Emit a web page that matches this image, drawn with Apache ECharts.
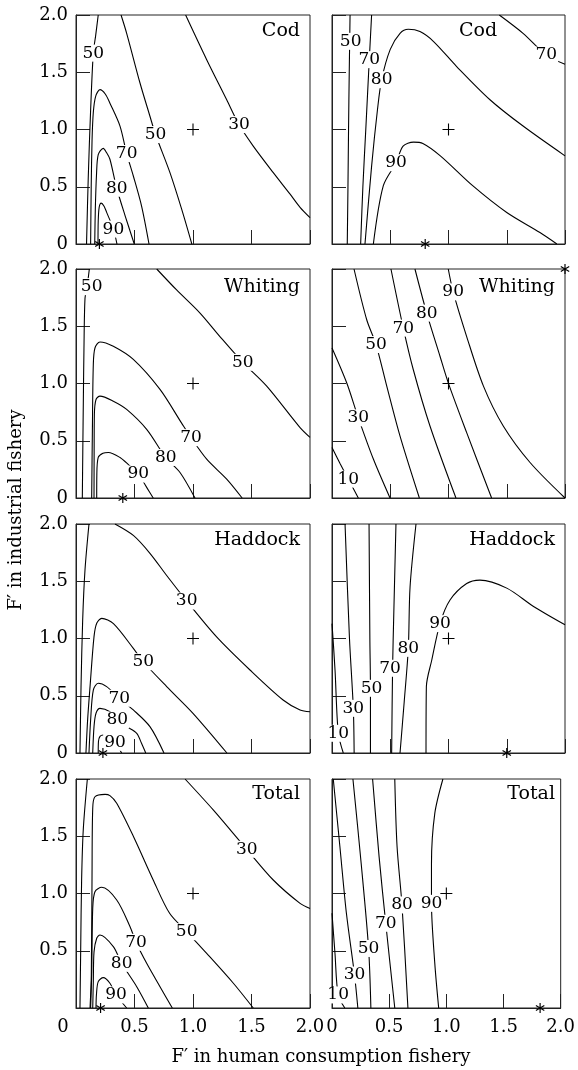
<!DOCTYPE html>
<html>
<head>
<meta charset="utf-8">
<script src="https://cdn.jsdelivr.net/npm/echarts@6/dist/echarts.min.js"></script>
<style>
  html, body { margin: 0; padding: 0; background: #fff; }
  #chart { width: 578px; height: 1070px; }
</style>
</head>
<body>
<div id="chart"></div>
<script>
// contour lines, [F' human consumption, F' industrial]
const codLeftLines = [
  [[0.19, 2], [0.168, 1.82], [0.148, 1.67], [0.125, 1.17], [0.105, 0.59], [0.09, 0]],
  [[0.385, 2], [0.433, 1.84], [0.547, 1.406], [0.632, 1.116], [0.68, 0.956], [0.803, 0.623], [0.903, 0.304], [0.99, 0]],
  [[0.937, 2], [1.117, 1.61], [1.288, 1.26], [1.393, 1.043], [1.515, 0.855], [1.686, 0.623], [1.83, 0.435], [1.915, 0.32], [2, 0.23]],
  [[0.125, 0], [0.13, 0.5], [0.137, 0.9], [0.148, 1.15], [0.168, 1.29], [0.205, 1.348], [0.25, 1.31], [0.29, 1.23], [0.376, 1.03], [0.433, 0.79], [0.49, 0.594], [0.56, 0.333], [0.624, 0]],
  [[0.16, 0], [0.165, 0.3], [0.175, 0.6], [0.19, 0.78], [0.233, 0.835], [0.26, 0.8], [0.29, 0.74], [0.348, 0.487], [0.42, 0.246], [0.498, 0]],
  [[0.188, 0], [0.19, 0.2], [0.198, 0.32], [0.215, 0.357], [0.24, 0.33], [0.262, 0.276], [0.32, 0.13], [0.35, 0]]
];
const codLeftLabels = [[0.148, 1.667, '50'], [0.68, 0.956, '50'], [1.393, 1.043, '30'], [0.433, 0.79, '70'], [0.348, 0.487, '80'], [0.32, 0.13, '90']];
const codLeftStar = [0.2, 0];

const codRightLines = [
  [[0.155, 2], [0.148, 1.5], [0.142, 1.0], [0.137, 0.5], [0.131, 0]],
  [[0.34, 2], [0.32, 1.61], [0.29, 1.0], [0.265, 0.5], [0.246, 0]],
  [[0.283, 0], [0.34, 0.68], [0.39, 1.17], [0.426, 1.435], [0.5, 1.7], [0.584, 1.84], [0.655, 1.875], [0.755, 1.855], [0.87, 1.77], [1.07, 1.55], [1.356, 1.26], [1.64, 1.03], [2, 0.77]],
  [[0.355, 0], [0.44, 0.507], [0.55, 0.71], [0.61, 0.855], [0.7, 0.89], [0.78, 0.878], [0.93, 0.77], [1.21, 0.507], [1.5, 0.275], [1.785, 0.1], [1.93, 0]],
  [[1.436, 2], [1.64, 1.84], [1.84, 1.65], [2, 1.57]]
];
const codRightLabels = [[0.16, 1.77, '50'], [0.32, 1.61, '70'], [0.426, 1.435, '80'], [0.55, 0.71, '90'], [1.84, 1.65, '70']];
const codRightStar = [0.8, 0];

const whitingLeftLines = [
  [[0.114, 2], [0.095, 1.85], [0.077, 1.745], [0.068, 1.3], [0.063, 0.876], [0.058, 0.4], [0.054, 0]],
  [[0.69, 2], [0.86, 1.817], [1.06, 1.615], [1.23, 1.41], [1.425, 1.185], [1.63, 0.977], [1.915, 0.615], [2, 0.53]],
  [[0.134, 0], [0.14, 0.585], [0.148, 1.165], [0.162, 1.31], [0.205, 1.363], [0.319, 1.325], [0.49, 1.21], [0.718, 0.948], [0.9, 0.658], [0.983, 0.527], [1.117, 0.339], [1.288, 0.165], [1.42, 0]],
  [[0.154, 0], [0.155, 0.4], [0.157, 0.73], [0.171, 0.86], [0.205, 0.89], [0.319, 0.846], [0.433, 0.774], [0.604, 0.6], [0.767, 0.354], [0.889, 0.223], [1.017, 0]],
  [[0.177, 0], [0.178, 0.2], [0.19, 0.354], [0.23, 0.39], [0.276, 0.397], [0.376, 0.354], [0.45, 0.29], [0.533, 0.209], [0.604, 0.093], [0.66, 0]]
];
const whitingLeftLabels = [[0.134, 1.846, '50'], [1.425, 1.185, '50'], [0.983, 0.527, '70'], [0.767, 0.354, '80'], [0.533, 0.209, '90']];
const whitingLeftStar = [0.4, 0];

const whitingRightLines = [
  [[0, 0.44], [0.07, 0.3], [0.14, 0.165], [0.226, 0]],
  [[0, 1.31], [0.126, 1.006], [0.226, 0.7], [0.355, 0.34], [0.498, 0]],
  [[0.189, 2], [0.298, 1.557], [0.378, 1.34], [0.47, 0.977], [0.584, 0.54], [0.75, 0]],
  [[0.506, 2], [0.612, 1.484], [0.698, 1.12], [0.841, 0.629], [1.064, 0]],
  [[0.712, 2], [0.813, 1.615], [0.927, 1.238], [0.998, 1.006], [1.156, 0.571], [1.37, 0]],
  [[0.998, 2], [1.04, 1.8], [1.156, 1.41], [1.3, 0.977], [1.47, 0.629], [1.7, 0.31], [2, 0]]
];
const whitingRightLabels = [[0.14, 0.165, '10'], [0.226, 0.7, '30'], [0.378, 1.34, '50'], [0.612, 1.484, '70'], [0.813, 1.615, '80'], [1.04, 1.8, '90']];
const whitingRightStar = [2, 2];

const haddockLeftLines = [
  [[0.111, 2], [0.077, 1.6], [0.057, 1.16], [0.043, 0.58], [0.034, 0]],
  [[0.333, 2], [0.49, 1.9], [0.632, 1.744], [0.775, 1.55], [0.946, 1.327], [1.2, 1.016], [1.487, 0.725], [1.77, 0.463], [1.915, 0.376], [2, 0.36]],
  [[0.085, 0], [0.1, 0.3], [0.12, 0.58], [0.154, 1.016], [0.177, 1.133], [0.22, 1.176], [0.32, 1.13], [0.49, 0.914], [0.575, 0.797], [0.775, 0.58], [1.0, 0.347], [1.29, 0]],
  [[0.111, 0], [0.125, 0.288], [0.148, 0.55], [0.19, 0.609], [0.262, 0.58], [0.37, 0.478], [0.49, 0.376], [0.632, 0.23], [0.752, 0]],
  [[0.143, 0], [0.154, 0.23], [0.171, 0.347], [0.205, 0.39], [0.29, 0.36], [0.353, 0.288], [0.433, 0.23], [0.519, 0.172], [0.56, 0.085], [0.596, 0]],
  [[0.19, 0], [0.192, 0.1], [0.205, 0.145], [0.233, 0.157], [0.28, 0.14], [0.333, 0.093], [0.39, 0]]
];
const haddockLeftLabels = [[0.946, 1.327, '30'], [0.575, 0.797, '50'], [0.37, 0.478, '70'], [0.353, 0.288, '80'], [0.333, 0.093, '90']];
const haddockLeftStar = [0.23, 0];

const haddockRightLines = [
  [[0, 1.13], [0.026, 0.725], [0.054, 0.172], [0.097, 0]],
  [[0.112, 2], [0.15, 1.0], [0.183, 0.39], [0.19, 0]],
  [[0.318, 2], [0.325, 1.0], [0.33, 0.565], [0.33, 0]],
  [[0.549, 2], [0.53, 1.2], [0.52, 0.74], [0.512, 0]],
  [[0.721, 2], [0.67, 1.45], [0.655, 0.914], [0.62, 0.45], [0.584, 0]],
  [[0.807, 0], [0.81, 0.58], [0.856, 0.81], [0.927, 1.13], [1.013, 1.336], [1.156, 1.48], [1.27, 1.51], [1.5, 1.44], [1.73, 1.28], [2, 1.12]]
];
const haddockRightLabels = [[0.054, 0.172, '10'], [0.183, 0.39, '30'], [0.34, 0.565, '50'], [0.498, 0.74, '70'], [0.655, 0.914, '80'], [0.927, 1.13, '90']];
const haddockRightStar = [1.5, 0];

const totalLeftLines = [
  [[0.097, 2], [0.062, 1.555], [0.048, 1.118], [0.04, 0.5], [0.034, 0]],
  [[0.932, 2], [1.173, 1.73], [1.459, 1.386], [1.686, 1.118], [1.915, 0.914], [2, 0.87]],
  [[0.12, 0], [0.131, 0.29], [0.137, 1.16], [0.143, 1.744], [0.162, 1.845], [0.248, 1.866], [0.29, 1.855], [0.348, 1.788], [0.49, 1.5], [0.66, 1.118], [0.8, 0.827], [0.946, 0.666], [1.117, 0.477], [1.345, 0.216], [1.515, 0]],
  [[0.125, 0], [0.134, 0.29], [0.143, 0.87], [0.162, 1.016], [0.22, 1.054], [0.348, 0.943], [0.462, 0.71], [0.513, 0.574], [0.604, 0.39], [0.718, 0.186], [0.823, 0]],
  [[0.143, 0], [0.148, 0.23], [0.154, 0.49], [0.177, 0.609], [0.205, 0.638], [0.319, 0.536], [0.39, 0.39], [0.519, 0.186], [0.618, 0]],
  [[0.171, 0], [0.175, 0.12], [0.19, 0.23], [0.233, 0.265], [0.29, 0.216], [0.342, 0.114], [0.433, 0]]
];
const totalLeftLabels = [[1.459, 1.386, '30'], [0.946, 0.666, '50'], [0.513, 0.574, '70'], [0.39, 0.39, '80'], [0.342, 0.114, '90']];
const totalLeftStar = [0.21, 0];

const totalRightLines = [
  [[0, 0.827], [0.026, 0.478], [0.054, 0.114], [0.112, 0]],
  [[0.011, 2], [0.069, 1.41], [0.126, 0.827], [0.197, 0.288], [0.226, 0]],
  [[0.183, 2], [0.255, 1.264], [0.32, 0.52], [0.34, 0]],
  [[0.355, 2], [0.412, 1.32], [0.47, 0.74], [0.549, 0]],
  [[0.549, 2], [0.569, 1.41], [0.612, 0.9], [0.664, 0]],
  [[0.97, 2], [0.899, 1.7], [0.87, 1.264], [0.87, 0.914], [0.899, 0.39], [0.933, 0]]
];
const totalRightLabels = [[0.054, 0.114, '10'], [0.197, 0.288, '30'], [0.32, 0.52, '50'], [0.47, 0.74, '70'], [0.612, 0.9, '80'], [0.87, 0.914, '90']];
const totalRightStar = [1.82, 0];

const refPoint = [1, 1];
const panelTitles = ['Cod', 'Cod', 'Whiting', 'Whiting', 'Haddock', 'Haddock', 'Total', 'Total'];

const panelLines = [codLeftLines, codRightLines, whitingLeftLines, whitingRightLines, haddockLeftLines, haddockRightLines, totalLeftLines, totalRightLines];
const panelLabels = [codLeftLabels, codRightLabels, whitingLeftLabels, whitingRightLabels, haddockLeftLabels, haddockRightLabels, totalLeftLabels, totalRightLabels];
const panelStars = [codLeftStar, codRightStar, whitingLeftStar, whitingRightStar, haddockLeftStar, haddockRightStar, totalLeftStar, totalRightStar];

// layout
const FONT = '"DejaVu Serif", serif';
const TEXT = '#000';
const AXIS = '#222';
const colLefts = [76, 332];
const colWidths = [234, 233];
const rowTops = [15, 269, 524, 779];
const rowHeight = 229;
const titleTops = [22, 278, 531, 785];
const titlePlace = [{ right: 278 }, { left: 459 }, { right: 278 }, { right: 23 }, { right: 278 }, { right: 23 }, { right: 278 }, { right: 23 }];

const plusPath = 'path://M0,5H11V6H0Z M5,0H6V11H5Z';
const starPath = 'path://M4.4,0H5.6V10H4.4Z M0.97,1.98L9.63,6.98L9.03,8.02L0.37,3.02Z M0.37,6.98L9.03,1.98L9.63,3.02L0.97,8.02Z';

const grids = [], xAxes = [], yAxes = [], series = [], titles = [];

panelTitles.forEach((name, i) => {
  const row = Math.floor(i / 2), col = i % 2;
  const bottomRow = row === 3;
  grids.push({
    left: colLefts[col], top: rowTops[row], width: colWidths[col], height: rowHeight,
    show: true, borderColor: AXIS, borderWidth: 1, backgroundColor: 'transparent'
  });
  xAxes.push({
    gridIndex: i, type: 'value', min: 0, max: 2, interval: 0.5,
    axisLine: { lineStyle: { color: AXIS, width: 1 } },
    axisTick: { inside: true, length: 14, lineStyle: { color: AXIS } },
    splitLine: { show: false },
    axisLabel: {
      show: bottomRow, margin: 10, fontSize: 18, fontFamily: FONT, color: TEXT,
      showMinLabel: true, showMaxLabel: true,
      formatter: v => v === 0 ? (col === 0 ? '{s|0}' : '0') : v.toFixed(1),
      rich: { s: { padding: [0, 26, 0, 0], fontSize: 18, fontFamily: FONT, color: TEXT } }
    }
  });
  yAxes.push({
    gridIndex: i, type: 'value', min: 0, max: 2, interval: 0.5,
    axisLine: { lineStyle: { color: AXIS, width: 1 } },
    axisTick: { inside: true, length: 14, lineStyle: { color: AXIS } },
    splitLine: { show: false },
    axisLabel: {
      show: col === 0, margin: 8, fontSize: 18, fontFamily: FONT, color: TEXT,
      showMinLabel: true, showMaxLabel: true,
      formatter: v => v === 0 ? (bottomRow ? '' : '0') : v.toFixed(1)
    }
  });
  titles.push(Object.assign({
    text: name, top: titleTops[row], padding: 0,
    textStyle: { fontSize: 19, fontFamily: FONT, fontWeight: 'normal', color: TEXT }
  }, titlePlace[i]));

  panelLines[i].forEach(pts => {
    series.push({
      type: 'line', xAxisIndex: i, yAxisIndex: i, data: pts,
      smooth: 0.3, symbol: 'none', silent: true, z: 2,
      lineStyle: { color: '#000', width: 1.1 }
    });
  });
  series.push({
    type: 'scatter', xAxisIndex: i, yAxisIndex: i, data: panelLabels[i],
    symbolSize: 1, itemStyle: { color: 'rgba(0,0,0,0)', opacity: 1 }, silent: true, z: 4,
    label: {
      show: true, position: 'inside', formatter: p => p.value[2],
      fontSize: 17, fontFamily: FONT, color: TEXT, opacity: 1,
      textBorderWidth: 0, backgroundColor: '#fff', padding: [0, 1]
    }
  });
  series.push({
    type: 'scatter', xAxisIndex: i, yAxisIndex: i, data: [refPoint],
    symbol: plusPath, symbolSize: 12, itemStyle: { color: TEXT, opacity: 1 }, silent: true, z: 5
  });
  series.push({
    type: 'scatter', xAxisIndex: i, yAxisIndex: i, data: [panelStars[i]],
    symbol: starPath, symbolSize: [9, 10], itemStyle: { color: TEXT, opacity: 1 }, silent: true, z: 6, clip: false
  });
});

const chart = echarts.init(document.getElementById('chart'));
chart.setOption({
  animation: false,
  backgroundColor: '#fff',
  title: titles,
  grid: grids,
  xAxis: xAxes,
  yAxis: yAxes,
  series: series,
  graphic: [
    {
      type: 'text', x: 16, y: 510, rotation: Math.PI / 2,
      style: { text: 'F\u2032 in industrial fishery', font: '18px ' + FONT, fill: TEXT, align: 'center', verticalAlign: 'middle' }
    },
    {
      type: 'text', x: 321, y: 1057,
      style: { text: 'F\u2032 in human consumption fishery', font: '18px ' + FONT, fill: TEXT, align: 'center', verticalAlign: 'middle' }
    }
  ]
});
</script>
</body>
</html>
